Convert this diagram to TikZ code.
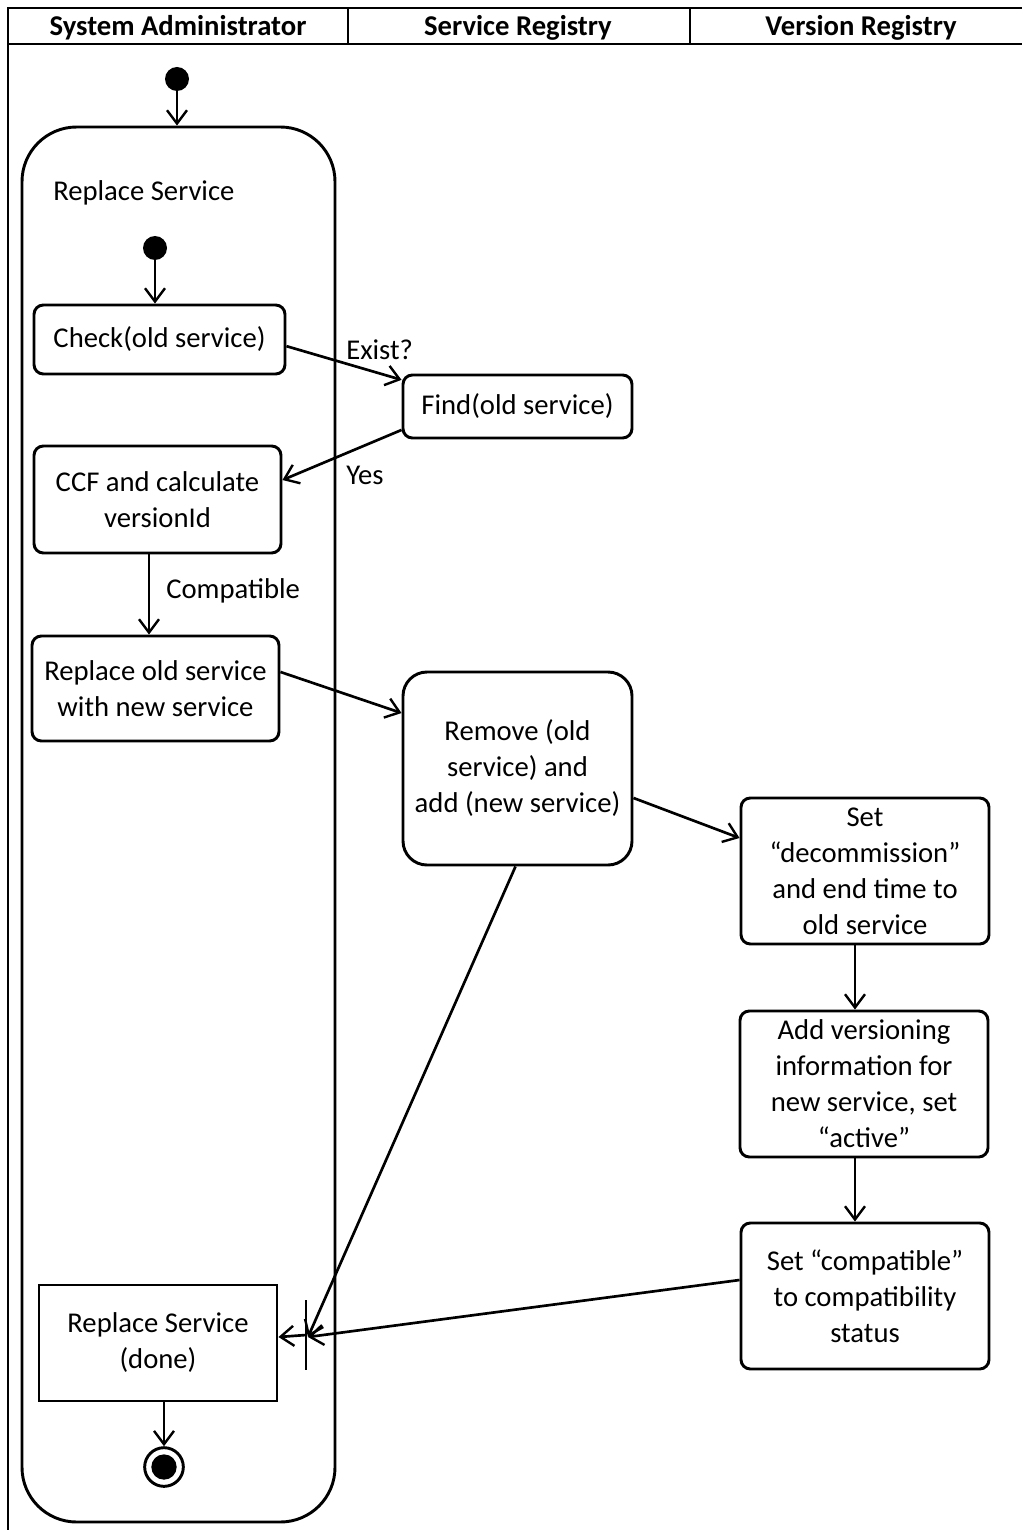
\documentclass[tikz,border=0pt]{standalone}
\usepackage{fontspec}
\setmainfont{Carlito}
\usetikzlibrary{arrows.meta,calc}

\begin{document}
\begin{tikzpicture}[x=0.75pt,y=-0.75pt,
  every node/.style={font=\fontsize{21.5pt}{27pt}\selectfont},
  frame/.style={line width=1.5pt},
  act/.style={draw, line width=2.2pt, rounded corners=7pt, align=center, inner sep=0pt},
  flow/.style={line width=2pt, -{Straight Barb[length=10pt,width=15pt,line width=1.8pt]}},
  startdot/.style={circle, fill=black, inner sep=0pt, minimum size=18pt},
  lbl/.style={anchor=west, inner sep=0pt},
  hdr/.style={font=\fontsize{21.5pt}{24pt}\selectfont\bfseries, inner sep=0pt}]
\useasboundingbox (0,0) rectangle (1022,1530);

% swimlane frame and headers
\draw[frame] (8,1530) -- (8,8) -- (1022,8);
\draw[frame] (8,44) -- (1022,44);
\draw[frame] (348,8) -- (348,44);
\draw[frame] (690,8) -- (690,44);
\node[hdr] (h1) at (178,28) {System Administrator};
\node[hdr] (h2) at (518,28) {Service Registry};
\node[hdr] (h3) at (861,28) {Version Registry};

% outer activity region
\node[draw, line width=2.2pt, rounded corners=41pt, minimum width=234.75pt, minimum height=1046.25pt, inner sep=0pt] (region) at (178.5,824.5) {};
\node[lbl] (regionlbl) at (53,193) {Replace Service};

\node[startdot] (init) at (177,79) {};
\draw[flow] (init) -- (init |- region.north);

\node[startdot] (initB) at (155,248) {};

% actions
\node[act, minimum width=188.25pt, minimum height=51.75pt] (check) at (159.5,339.5) {Check(old service)};
\node[act, minimum width=171.75pt, minimum height=47.25pt] (find) at (517.5,406.5) {Find(old service)};
\node[act, minimum width=185.25pt, minimum height=80.25pt] (ccf) at (157.5,499.5) {CCF and calculate\\versionId};
\node[act, minimum width=185.25pt, minimum height=78.75pt] (replace) at (155.5,688.5) {Replace old service\\with new service};
\node[act, rounded corners=18pt, minimum width=171.75pt, minimum height=144.75pt] (remove) at (517.5,768.5) {Remove (old\\service) and\\add (new service)};
\node[act, minimum width=186pt, minimum height=109.5pt] (decomm) at (865,871) {Set\\“decommission”\\and end time to\\old service};
\node[act, minimum width=186pt, minimum height=109.5pt] (addver) at (864,1084) {Add versioning\\information for\\new service, set\\“active”};
\node[act, minimum width=186pt, minimum height=109.5pt] (compat) at (865,1296) {Set “compatible”\\to compatibility\\status};
\node[draw, line width=2.2pt, align=center, inner sep=0pt, minimum width=178.5pt, minimum height=87pt] (done) at (158,1343) {Replace Service\\(done)};

% join bar
\node[fill=black, inner sep=0pt, minimum width=2.2pt, minimum height=52.5pt] (join) at (306,1335) {};
\coordinate (joinpt) at (308,1337);

% final node
\node[circle, draw, line width=2.2pt, inner sep=0pt, minimum size=29pt] (final) at (164,1467) {};
\node[circle, fill=black, inner sep=0pt, minimum size=19pt] (finaldot) at (final) {};

% vertical flow start points
\coordinate (ccfout) at (149,553);
\coordinate (decout) at (855,944);
\coordinate (addout) at (855,1157);
\coordinate (doneout) at (164,1401);

% flows
\draw[flow] (initB) -- (initB |- check.north);
\draw[flow] ([yshift=-5pt]check.east) -- ([yshift=20pt]find.west);
\node[lbl] (exist) at (346,350) {Exist?};
\draw[flow] ([yshift=-17.6pt]find.west) -- ([yshift=14.6pt]ccf.east);
\node[lbl] (yes) at (346,475) {Yes};
\draw[flow] (ccfout) -- (ccfout |- replace.north);
\node[lbl] (compatlbl) at (166,591) {Compatible};
\draw[flow] ([yshift=12.4pt]replace.east) -- ([yshift=41.6pt]remove.west);
\draw[flow] ([yshift=-22.1pt]remove.east) -- ([yshift=24.75pt]decomm.west);
\draw[flow] (decout) -- (decout |- addver.north);
\draw[flow] (addout) -- (addout |- compat.north);
\draw[flow] ([yshift=12pt]compat.west) -- (joinpt);
\draw[flow] ([xshift=-1.5pt]remove.south) -- (joinpt);
\draw[flow] (join.center) -- ([yshift=4.5pt]done.east);
\draw[flow] (doneout) -- (doneout |- final.north);

\end{tikzpicture}
\end{document}
